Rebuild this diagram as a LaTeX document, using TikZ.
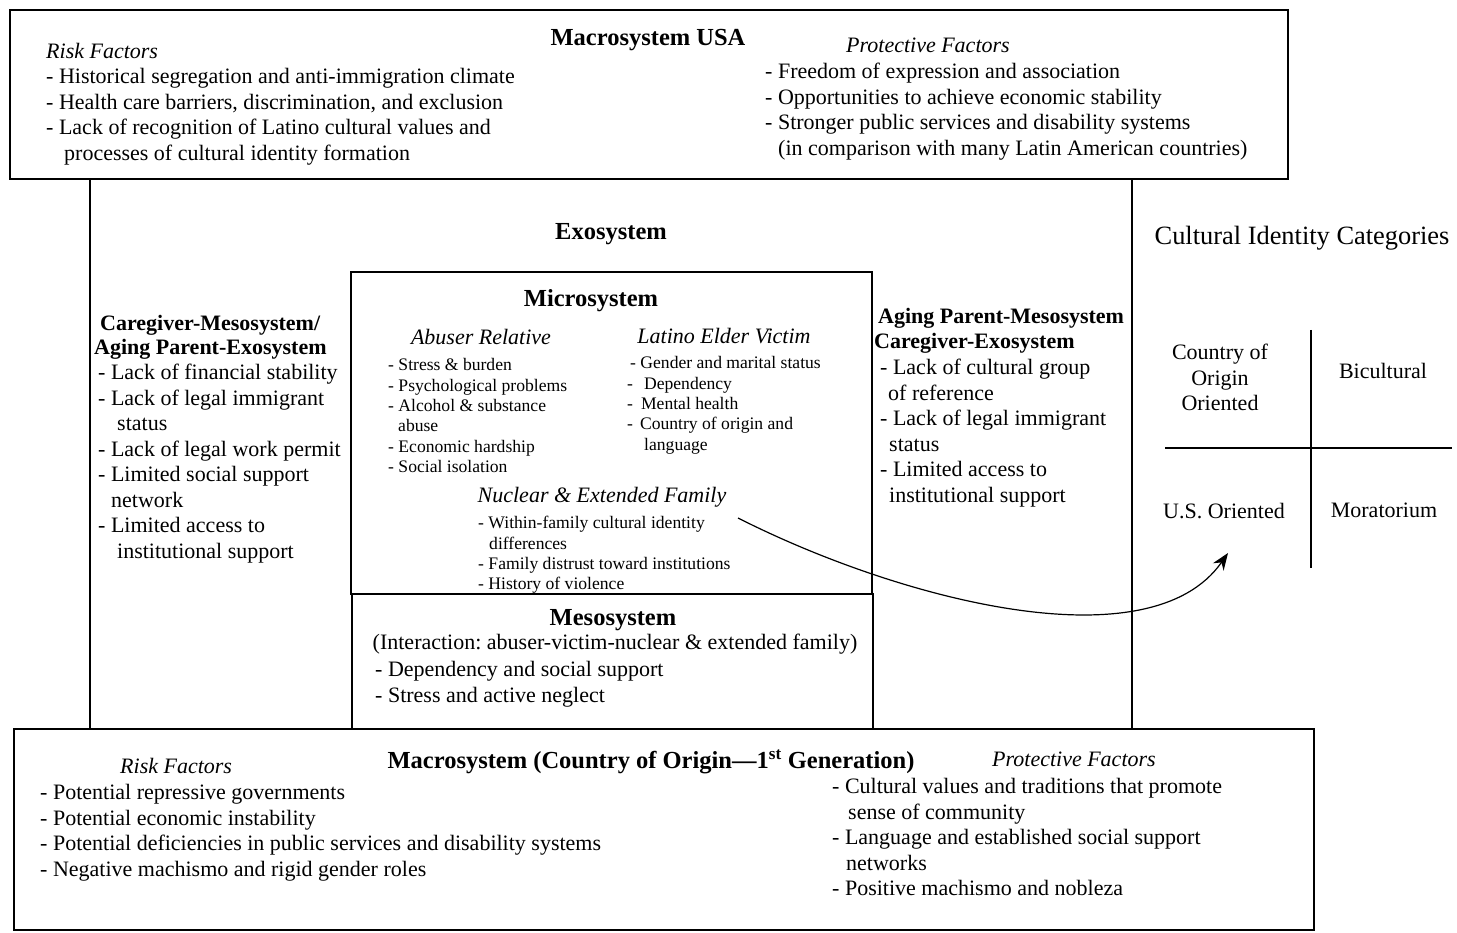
\documentclass[tikz,border=0pt]{standalone}
\usepackage{fontspec}
\setmainfont{Liberation Serif}
\usetikzlibrary{arrows.meta}
\frenchspacing
% struts fixing the height of the first line of a block
\newcommand\bodystrut{\rule{0pt}{16pt}}
\newcommand\finestrut{\rule{0pt}{13pt}}
\begin{document}
\begin{tikzpicture}[x=1pt,y=-1pt,
  frame/.style={draw, line width=1.3pt},
  whiteframe/.style={frame, fill=white},
  txt/.style={inner sep=0pt, yshift=-2.5pt},
  body/.style={txt, anchor=north west, align=left,
    font=\fontsize{22}{25.5}\selectfont},
  fine/.style={txt, anchor=north west, align=left,
    font=\fontsize{17.6}{20.4}\selectfont},
  title/.style={txt, anchor=base, font=\bfseries\fontsize{24.5}{28}\selectfont},
  subtitle/.style={txt, anchor=base west, font=\bfseries\fontsize{22}{24.5}\selectfont},
  factor/.style={txt, anchor=base west, font=\itshape\fontsize{22}{25}\selectfont},
  cell/.style={txt, font=\fontsize{22}{25.5}\selectfont},
  link/.style={line width=1.2pt, -{Stealth[length=17pt,width=13pt]}},
]
\useasboundingbox[fill=white] (0,0) rectangle (1457,933);

% ---------- Exosystem frame (partly covered by the macrosystem boxes)
\draw[frame] (90,168) rectangle (1132,738);
\node[title] (exo) at (611,237) {Exosystem};

% ---------- Macrosystem USA
\draw[whiteframe] (10,10) rectangle (1288,179);
\node[title] (macusa) at (648,43) {Macrosystem USA};
\node[factor] (usrisk) at (46,56) {Risk Factors};
\node[body] (usrisklist) at (46,65) {\bodystrut- Historical segregation and anti-immigration climate\\
- Health care barriers, discrimination, and exclusion\\
- Lack of recognition of Latino cultural values and\\
\hspace*{18pt}processes of cultural identity formation};
\node[factor] (usprot) at (846,50) {Protective Factors};
\node[body] (usprotlist) at (765,60) {\bodystrut- Freedom of expression and association\\
- Opportunities to achieve economic stability\\
- Stronger public services and disability systems\\
\hspace*{13pt}(in comparison with many Latin American countries)};

% ---------- Caregiver side
\node[subtitle] (cgtitle) at (100,328) {Caregiver-Mesosystem/};
\node[subtitle] (cgtitleb) at (94,352) {Aging Parent-Exosystem};
\node[body] (cglist) at (98,361) {\bodystrut- Lack of financial stability\\
- Lack of legal immigrant\\
\hspace*{19pt}status\\
- Lack of legal work permit\\
- Limited social support\\
\hspace*{13pt}network\\
- Limited access to\\
\hspace*{19pt}institutional support};

% ---------- Aging parent side
\node[subtitle] (aptitle) at (878,321) {Aging Parent-Mesosystem};
\node[subtitle] (aptitleb) at (874,346) {Caregiver-Exosystem};
\node[body] (aplist) at (880,356) {\bodystrut- Lack of cultural group\\
\hspace*{8pt}of reference\\
- Lack of legal immigrant\\
\hspace*{9pt}status\\
- Limited access to\\
\hspace*{9pt}institutional support};

% ---------- Microsystem
\draw[frame] (351,272) rectangle (872,594);
\node[title] (micro) at (591,304) {Microsystem};
\node[factor, anchor=base] (abuser) at (481,342) {Abuser Relative};
\node[fine] (abuserlist) at (388,355) {\finestrut- Stress \& burden\\
- Psychological problems\\
- Alcohol \& substance\\
\hspace*{10pt}abuse\\
- Economic hardship\\
- Social isolation};
\node[factor, anchor=base] (victim) at (724,341) {Latino Elder Victim};
\node[fine] (victimlist) at (627,353) {\finestrut\hspace*{3pt}- Gender and marital status\\
-\hspace*{11pt}Dependency\\
-\hspace*{8pt}Mental health\\
-\hspace*{7pt}Country of origin and\\
\hspace*{17pt}language};
\node[factor, anchor=base] (family) at (602,500) {Nuclear \& Extended Family};
\node[fine] (familylist) at (478,513) {\finestrut- Within-family cultural identity\\
\hspace*{11pt}differences\\
- Family distrust toward institutions\\
- History of violence};

% ---------- Mesosystem
\draw[frame] (352,594) rectangle (873,733);
\node[title] (meso) at (613,623) {Mesosystem};
\node[cell, anchor=base] (mesonote) at (615,647) {(Interaction: abuser-victim-nuclear \& extended family)};
\node[body] (mesolist) at (375,658) {\bodystrut- Dependency and social support\\
- Stress and active neglect};

% ---------- Macrosystem, country of origin
\draw[whiteframe] (14,729) rectangle (1314,930);
\node[title] (maccoo) at (651,766) {Macrosystem (Country of Origin---1\textsuperscript{st} Generation)};
\node[factor] (coorisk) at (120,771) {Risk Factors};
\node[body] (coorisklist) at (40,781) {\bodystrut- Potential repressive governments\\
- Potential economic instability\\
- Potential deficiencies in public services and disability systems\\
- Negative machismo and rigid gender roles};
\node[factor] (cooprot) at (992,764) {Protective Factors};
\node[body] (cooprotlist) at (832,775) {\bodystrut- Cultural values and traditions that promote\\
\hspace*{16pt}sense of community\\
- Language and established social support\\
\hspace*{14pt}networks\\
- Positive machismo and nobleza};

% ---------- Cultural identity categories
\node[cell, anchor=base, font=\fontsize{26.4}{30}\selectfont] (cictitle) at (1302,242) {Cultural Identity Categories};
\coordinate (gridtop) at (1311,330);
\coordinate (gridbottom) at (1311,568);
\coordinate (gridleft) at (1165,448);
\coordinate (gridright) at (1452,448);
\draw[line width=1.1pt] (gridtop) -- (gridbottom);
\draw[line width=1.1pt] (gridleft) -- (gridright);
\node[cell, align=center, anchor=north] (coo) at (1220,341) {\bodystrut Country of\\Origin\\Oriented};
\node[cell, anchor=base] (bicult) at (1383,376) {Bicultural};
\node[cell, anchor=base] (usor) at (1224,516) {U.S. Oriented};
\node[cell, anchor=base] (morat) at (1384,515) {Moratorium};

% ---------- influence of family identity differences on cultural identity
\coordinate (famfrom) at (738,518);
\coordinate (usto) at (1228,553);
\draw[link] (famfrom) .. controls (900,600) and (1150,665) .. (usto);
\end{tikzpicture}
\end{document}
